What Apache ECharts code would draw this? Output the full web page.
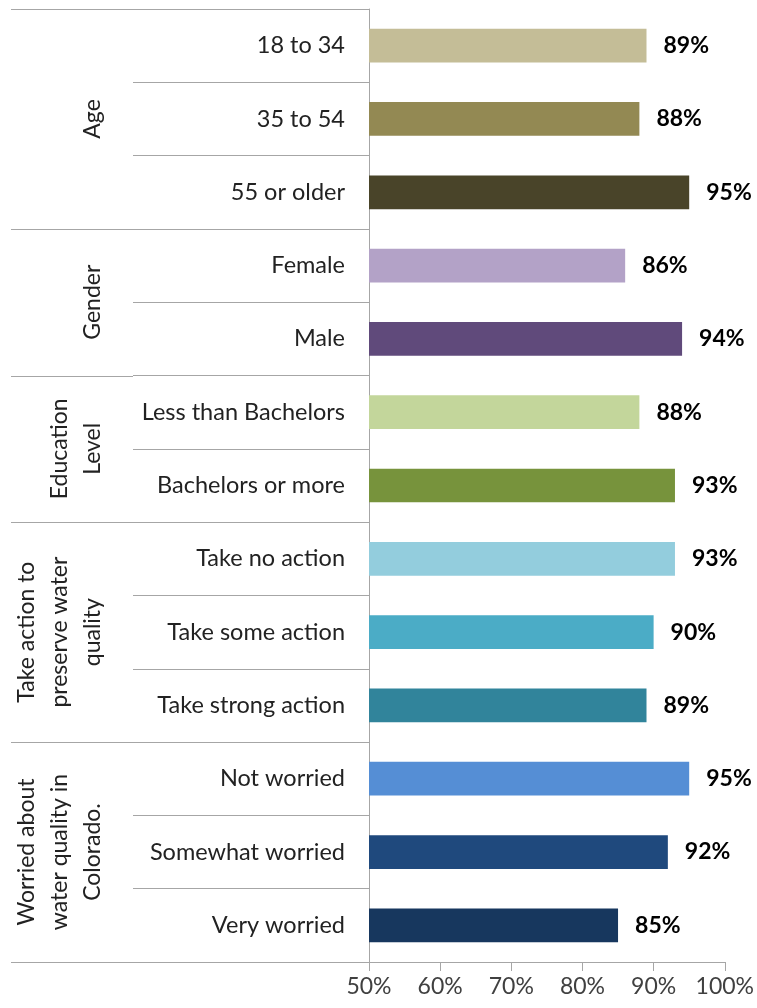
<!DOCTYPE html>
<html><head><meta charset="utf-8">
<script src="https://cdn.jsdelivr.net/npm/echarts@6/dist/echarts.min.js"></script>
<style>html,body{margin:0;padding:0;background:#fff}#c{width:757px;height:1008px}</style>
</head><body><div id="c"></div>
<script>
const categories = ['18 to 34','35 to 54','55 or older','Female','Male','Less than Bachelors','Bachelors or more','Take no action','Take some action','Take strong action','Not worried','Somewhat worried','Very worried'];
const values = [89,88,95,86,94,88,93,93,90,89,95,92,85];
const colors = ['#C4BD97','#938953','#494429','#B3A2C7','#604A7B','#C3D69B','#77933C','#93CDDD','#4BACC6','#31849B','#558ED5','#1F497D','#17375E'];
const groupNames = ['Age','Gender','Education\nLevel','Take action to\npreserve water\nquality','Worried about\nwater quality in\nColorado.'];
const groupSizes = [3,2,2,3,3];
const xMin = 50, xMax = 100, xInterval = 10;

const FONT = 'Lato';
const LINE = '#a6a6a6';
const chart = echarts.init(document.getElementById('c'), null, {renderer:'canvas'});
const option = {
  animation:false,
  grid:{left:369,right:30,top:9,bottom:46,containLabel:false},
  xAxis:{type:'value',min:xMin,max:xMax,interval:xInterval,
    axisLine:{show:true,lineStyle:{color:LINE,width:1}},
    axisTick:{show:true,length:9,lineStyle:{color:LINE}},
    splitLine:{show:false},
    axisLabel:{formatter:'{value}%',fontFamily:FONT,fontSize:23,color:'#404040',margin:13}},
  yAxis:{type:'category',data:categories,inverse:true,
    axisLine:{show:true,lineStyle:{color:LINE,width:1}},
    axisTick:{show:true,length:236,lineStyle:{color:LINE}},
    axisLabel:{fontFamily:FONT,fontSize:23.5,color:'#222',margin:24}},
  series:[{type:'bar',barWidth:'46%',
    data:values.map((v,i)=>({value:v,itemStyle:{color:colors[i]}})),
    label:{show:true,position:'right',distance:17,formatter:'{c}%',fontFamily:FONT,fontSize:23,fontWeight:'bold',color:'#000'}}]
};
chart.setOption(option);
const c0 = chart.convertToPixel({yAxisIndex:0}, categories[0]);
const c1 = chart.convertToPixel({yAxisIndex:0}, categories[1]);
const band = c1 - c0;
const axisX = chart.convertToPixel({xAxisIndex:0}, xMin);
const graphics = [];
let idx = 0;
const boundaries = [0];
groupSizes.forEach(s=>{idx+=s;boundaries.push(idx);});
boundaries.forEach(b=>{
  const y = Math.round(c0 + band*b - band/2) + 0.5;
  graphics.push({type:'line',shape:{x1:11,y1:y,x2:axisX-236,y2:y},style:{stroke:LINE,lineWidth:1},silent:true});
});
let start = 0;
groupNames.forEach((g,i)=>{
  const mid = c0 + band*(start + groupSizes[i]/2) - band/2;
  graphics.push({type:'text',x:109,y:mid,rotation:Math.PI/2,
    style:{text:g,fontFamily:FONT,fontSize:23,fill:'#222',align:'center',verticalAlign:'bottom',lineHeight:33}});
  start += groupSizes[i];
});
chart.setOption({graphic:graphics});
</script></body></html>
